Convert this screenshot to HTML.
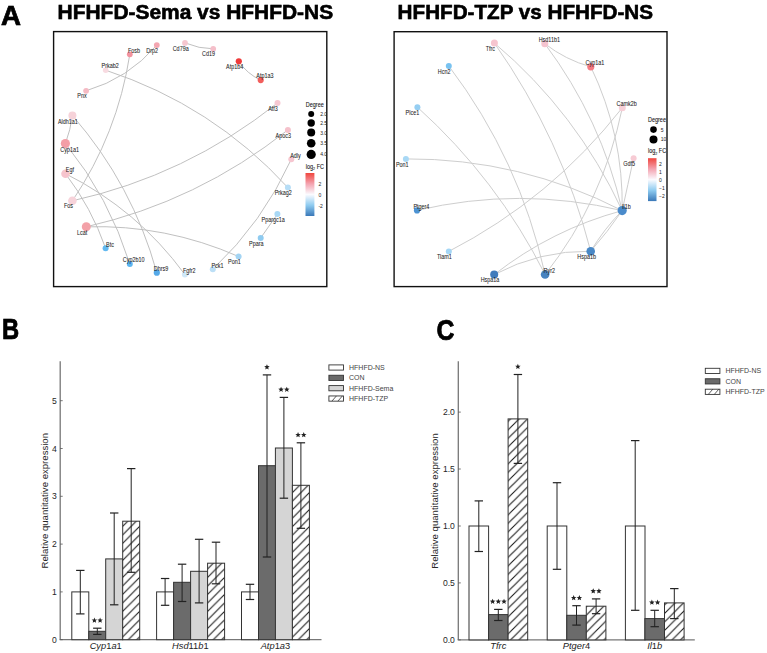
<!DOCTYPE html>
<html><head><meta charset="utf-8"><style>
html,body{margin:0;padding:0;background:#fff;}
svg{display:block;font-family:"Liberation Sans", sans-serif;}
</style></head><body>
<svg width="767" height="653" viewBox="0 0 767 653">
<rect width="767" height="653" fill="#fff"/>
<text transform="translate(0.95,25.15) scale(1.000,1)" x="0" y="0" font-size="27.65" font-weight="bold" fill="#000" stroke="#000" stroke-width="0.7" style="filter:drop-shadow(0.8px 0.9px 0.7px rgba(0,0,0,0.3))">A</text>
<text transform="translate(57.60,19.05) scale(1.031,1)" x="0" y="0" font-size="20.3" font-weight="bold" fill="#000" stroke="#000" stroke-width="0.5" style="filter:drop-shadow(0.8px 0.9px 0.7px rgba(0,0,0,0.3))">HFHFD-Sema vs HFHFD-NS</text>
<text transform="translate(397.60,18.50) scale(1.018,1)" x="0" y="0" font-size="20.3" font-weight="bold" fill="#000" stroke="#000" stroke-width="0.5" style="filter:drop-shadow(0.8px 0.9px 0.7px rgba(0,0,0,0.3))">HFHFD-TZP vs HFHFD-NS</text>
<g>
<path d="M185.0,42.9 Q199.1,48.8 213.2,48.8" fill="none" stroke="#bdbdbd" stroke-width="0.95"/>
<path d="M238.8,61.3 Q246.8,73.7 260.7,80.1" fill="none" stroke="#bdbdbd" stroke-width="0.95"/>
<path d="M156.8,45.1 Q128.2,78.5 86.1,90.8" fill="none" stroke="#bdbdbd" stroke-width="0.95"/>
<path d="M105.7,70.2 Q212.6,105.3 287.9,187.6" fill="none" stroke="#bdbdbd" stroke-width="0.95"/>
<path d="M129.8,54.3 Q117.5,134.0 72.4,200.8" fill="none" stroke="#bdbdbd" stroke-width="0.95"/>
<path d="M277.5,103.0 Q186.1,175.5 72.4,200.8" fill="none" stroke="#bdbdbd" stroke-width="0.95"/>
<path d="M287.9,129.9 Q197.9,201.2 86.3,226.8" fill="none" stroke="#bdbdbd" stroke-width="0.95"/>
<path d="M291.3,159.3 Q262.7,222.3 212.8,269.3" fill="none" stroke="#bdbdbd" stroke-width="0.95"/>
<path d="M277.4,214.1 Q269.0,226.1 260.7,238.0" fill="none" stroke="#bdbdbd" stroke-width="0.95"/>
<path d="M72.4,115.5 Q70.5,130.0 65.4,143.6" fill="none" stroke="#bdbdbd" stroke-width="0.95"/>
<path d="M72.4,115.5 Q132.6,184.7 156.8,272.7" fill="none" stroke="#bdbdbd" stroke-width="0.95"/>
<path d="M65.4,143.6 Q109.0,197.3 129.8,263.9" fill="none" stroke="#bdbdbd" stroke-width="0.95"/>
<path d="M65.5,173.7 Q91.5,207.8 105.6,248.2" fill="none" stroke="#bdbdbd" stroke-width="0.95"/>
<path d="M65.5,173.7 Q137.4,209.7 184.9,274.5" fill="none" stroke="#bdbdbd" stroke-width="0.95"/>
<path d="M86.3,226.8 Q165.8,224.5 238.6,256.5" fill="none" stroke="#bdbdbd" stroke-width="0.95"/>
<circle cx="129.8" cy="54.3" r="2.9" fill="#f3939f"/>
<circle cx="156.8" cy="45.1" r="2.9" fill="#f4a6b1"/>
<circle cx="185.0" cy="42.9" r="2.9" fill="#f6c7cf"/>
<circle cx="213.2" cy="48.8" r="2.9" fill="#f5bfca"/>
<circle cx="238.8" cy="61.3" r="3.1" fill="#ef3b3b"/>
<circle cx="260.7" cy="80.1" r="3.1" fill="#f25e5c"/>
<circle cx="105.7" cy="70.2" r="2.8" fill="#f8dbe1"/>
<circle cx="86.1" cy="90.8" r="2.9" fill="#f5bac4"/>
<circle cx="72.4" cy="115.5" r="4.0" fill="#f6d2d9"/>
<circle cx="65.4" cy="143.6" r="4.6" fill="#f39ea6"/>
<circle cx="65.5" cy="173.7" r="4.3" fill="#f6c4cd"/>
<circle cx="72.4" cy="200.8" r="4.3" fill="#f7d3da"/>
<circle cx="86.3" cy="226.8" r="4.5" fill="#f3a1a8"/>
<circle cx="105.6" cy="248.2" r="3.0" fill="#62b9f0"/>
<circle cx="129.8" cy="263.9" r="3.0" fill="#5cb5ef"/>
<circle cx="156.8" cy="272.7" r="3.1" fill="#55a9e8"/>
<circle cx="184.9" cy="274.5" r="3.0" fill="#cfe8f8"/>
<circle cx="212.8" cy="269.3" r="3.0" fill="#bcdff6"/>
<circle cx="238.6" cy="256.5" r="3.0" fill="#a3d4f3"/>
<circle cx="260.7" cy="238.0" r="3.0" fill="#8fcbf0"/>
<circle cx="277.4" cy="214.1" r="3.0" fill="#a9d8f5"/>
<circle cx="287.9" cy="187.6" r="3.0" fill="#b6ddf6"/>
<circle cx="291.3" cy="159.3" r="3.0" fill="#f6c6d0"/>
<circle cx="287.9" cy="129.9" r="3.0" fill="#f5c1cb"/>
<circle cx="277.5" cy="103.0" r="3.0" fill="#f6c8d2"/>
<text x="134.0" y="52.6" font-size="6.4" text-anchor="middle" fill="#1c1c1c" stroke="#1c1c1c" stroke-width="0.06" font-weight="normal" transform="translate(134.0,0) scale(0.85,1) translate(-134.0,0)">Fosb</text>
<text x="152.2" y="52.9" font-size="6.4" text-anchor="middle" fill="#1c1c1c" stroke="#1c1c1c" stroke-width="0.06" font-weight="normal" transform="translate(152.2,0) scale(0.85,1) translate(-152.2,0)">Drp2</text>
<text x="180.7" y="51.3" font-size="6.4" text-anchor="middle" fill="#1c1c1c" stroke="#1c1c1c" stroke-width="0.06" font-weight="normal" transform="translate(180.7,0) scale(0.85,1) translate(-180.7,0)">Cd79a</text>
<text x="208.6" y="56.5" font-size="6.4" text-anchor="middle" fill="#1c1c1c" stroke="#1c1c1c" stroke-width="0.06" font-weight="normal" transform="translate(208.6,0) scale(0.85,1) translate(-208.6,0)">Cd19</text>
<text x="234.7" y="68.8" font-size="6.4" text-anchor="middle" fill="#1c1c1c" stroke="#1c1c1c" stroke-width="0.06" font-weight="normal" transform="translate(234.7,0) scale(0.85,1) translate(-234.7,0)">Atp1b4</text>
<text x="264.9" y="77.7" font-size="6.4" text-anchor="middle" fill="#1c1c1c" stroke="#1c1c1c" stroke-width="0.06" font-weight="normal" transform="translate(264.9,0) scale(0.85,1) translate(-264.9,0)">Atp1a3</text>
<text x="110.2" y="68.5" font-size="6.4" text-anchor="middle" fill="#1c1c1c" stroke="#1c1c1c" stroke-width="0.06" font-weight="normal" transform="translate(110.2,0) scale(0.85,1) translate(-110.2,0)">Prkab2</text>
<text x="82.0" y="98.1" font-size="6.4" text-anchor="middle" fill="#1c1c1c" stroke="#1c1c1c" stroke-width="0.06" font-weight="normal" transform="translate(82.0,0) scale(0.85,1) translate(-82.0,0)">Pnx</text>
<text x="67.9" y="123.9" font-size="6.4" text-anchor="middle" fill="#1c1c1c" stroke="#1c1c1c" stroke-width="0.06" font-weight="normal" transform="translate(67.9,0) scale(0.85,1) translate(-67.9,0)">Aldh1a1</text>
<text x="69.6" y="151.7" font-size="6.4" text-anchor="middle" fill="#1c1c1c" stroke="#1c1c1c" stroke-width="0.06" font-weight="normal" transform="translate(69.6,0) scale(0.85,1) translate(-69.6,0)">Cyp1a1</text>
<text x="69.9" y="172.4" font-size="6.4" text-anchor="middle" fill="#1c1c1c" stroke="#1c1c1c" stroke-width="0.06" font-weight="normal" transform="translate(69.9,0) scale(0.85,1) translate(-69.9,0)">Egf</text>
<text x="68.5" y="208.4" font-size="6.4" text-anchor="middle" fill="#1c1c1c" stroke="#1c1c1c" stroke-width="0.06" font-weight="normal" transform="translate(68.5,0) scale(0.85,1) translate(-68.5,0)">Fos</text>
<text x="82.1" y="234.9" font-size="6.4" text-anchor="middle" fill="#1c1c1c" stroke="#1c1c1c" stroke-width="0.06" font-weight="normal" transform="translate(82.1,0) scale(0.85,1) translate(-82.1,0)">Lcat</text>
<text x="110.0" y="246.9" font-size="6.4" text-anchor="middle" fill="#1c1c1c" stroke="#1c1c1c" stroke-width="0.06" font-weight="normal" transform="translate(110.0,0) scale(0.85,1) translate(-110.0,0)">Btc</text>
<text x="133.7" y="262.2" font-size="6.4" text-anchor="middle" fill="#1c1c1c" stroke="#1c1c1c" stroke-width="0.06" font-weight="normal" transform="translate(133.7,0) scale(0.85,1) translate(-133.7,0)">Cyp2b10</text>
<text x="161.1" y="271.1" font-size="6.4" text-anchor="middle" fill="#1c1c1c" stroke="#1c1c1c" stroke-width="0.06" font-weight="normal" transform="translate(161.1,0) scale(0.85,1) translate(-161.1,0)">Dhrs9</text>
<text x="189.3" y="273.5" font-size="6.4" text-anchor="middle" fill="#1c1c1c" stroke="#1c1c1c" stroke-width="0.06" font-weight="normal" transform="translate(189.3,0) scale(0.85,1) translate(-189.3,0)">Fgfr2</text>
<text x="217.5" y="267.7" font-size="6.4" text-anchor="middle" fill="#1c1c1c" stroke="#1c1c1c" stroke-width="0.06" font-weight="normal" transform="translate(217.5,0) scale(0.85,1) translate(-217.5,0)">Pck1</text>
<text x="234.4" y="264.1" font-size="6.4" text-anchor="middle" fill="#1c1c1c" stroke="#1c1c1c" stroke-width="0.06" font-weight="normal" transform="translate(234.4,0) scale(0.85,1) translate(-234.4,0)">Pon1</text>
<text x="256.3" y="245.9" font-size="6.4" text-anchor="middle" fill="#1c1c1c" stroke="#1c1c1c" stroke-width="0.06" font-weight="normal" transform="translate(256.3,0) scale(0.85,1) translate(-256.3,0)">Ppara</text>
<text x="273.2" y="222.2" font-size="6.4" text-anchor="middle" fill="#1c1c1c" stroke="#1c1c1c" stroke-width="0.06" font-weight="normal" transform="translate(273.2,0) scale(0.85,1) translate(-273.2,0)">Ppargc1a</text>
<text x="283.3" y="195.1" font-size="6.4" text-anchor="middle" fill="#1c1c1c" stroke="#1c1c1c" stroke-width="0.06" font-weight="normal" transform="translate(283.3,0) scale(0.85,1) translate(-283.3,0)">Prkag2</text>
<text x="295.5" y="157.6" font-size="6.4" text-anchor="middle" fill="#1c1c1c" stroke="#1c1c1c" stroke-width="0.06" font-weight="normal" transform="translate(295.5,0) scale(0.85,1) translate(-295.5,0)">Adly</text>
<text x="283.3" y="137.7" font-size="6.4" text-anchor="middle" fill="#1c1c1c" stroke="#1c1c1c" stroke-width="0.06" font-weight="normal" transform="translate(283.3,0) scale(0.85,1) translate(-283.3,0)">Apoc3</text>
<text x="273.0" y="110.8" font-size="6.4" text-anchor="middle" fill="#1c1c1c" stroke="#1c1c1c" stroke-width="0.06" font-weight="normal" transform="translate(273.0,0) scale(0.85,1) translate(-273.0,0)">Atf3</text>
</g>
<g>
<path d="M544.8,43.7 Q565.6,59.9 590.8,66.8" fill="none" stroke="#cecece" stroke-width="1.0"/>
<path d="M494.4,43.1 Q561.5,138.3 590.7,251.2" fill="none" stroke="#cecece" stroke-width="1.0"/>
<path d="M494.4,43.1 Q576.7,112.6 622.2,210.6" fill="none" stroke="#cecece" stroke-width="1.0"/>
<path d="M544.8,43.7 Q601.3,119.0 622.2,210.6" fill="none" stroke="#cecece" stroke-width="1.0"/>
<path d="M590.8,66.8 Q623.5,134.9 622.2,210.6" fill="none" stroke="#cecece" stroke-width="1.0"/>
<path d="M622.3,107.8 Q550.8,198.8 448.8,251.4" fill="none" stroke="#cecece" stroke-width="1.0"/>
<path d="M622.3,107.8 Q603.3,200.8 545.1,274.5" fill="none" stroke="#cecece" stroke-width="1.0"/>
<path d="M448.8,66.0 Q519.8,159.8 545.1,274.5" fill="none" stroke="#cecece" stroke-width="1.0"/>
<path d="M417.4,107.2 Q497.1,179.0 545.1,274.5" fill="none" stroke="#cecece" stroke-width="1.0"/>
<path d="M633.6,158.3 Q627.9,184.4 622.2,210.6" fill="none" stroke="#cecece" stroke-width="1.0"/>
<path d="M405.9,158.9 Q520.4,158.3 622.2,210.6" fill="none" stroke="#cecece" stroke-width="1.0"/>
<path d="M417.0,210.4 Q519.4,186.3 622.2,210.6" fill="none" stroke="#cecece" stroke-width="1.0"/>
<path d="M494.2,274.6 Q551.8,229.6 622.2,210.6" fill="none" stroke="#cecece" stroke-width="1.0"/>
<path d="M494.2,274.6 Q539.5,250.5 590.7,251.2" fill="none" stroke="#cecece" stroke-width="1.0"/>
<path d="M590.7,251.2 Q604.1,228.9 622.2,210.6" fill="none" stroke="#cecece" stroke-width="1.0"/>
<path d="M590.7,251.2 Q607.7,231.9 622.2,210.6" fill="none" stroke="#cecece" stroke-width="1.0"/>
<circle cx="494.4" cy="43.1" r="3.5" fill="#f6c5cf"/>
<circle cx="544.8" cy="43.7" r="3.5" fill="#f5c4cf"/>
<circle cx="590.8" cy="66.8" r="3.6" fill="#f47a82"/>
<circle cx="622.3" cy="107.8" r="3.5" fill="#f7cfd7"/>
<circle cx="633.6" cy="158.3" r="3.0" fill="#f7cbd4"/>
<circle cx="622.2" cy="210.6" r="4.6" fill="#4a8bcb"/>
<circle cx="590.7" cy="251.2" r="4.3" fill="#4988c6"/>
<circle cx="545.1" cy="274.5" r="4.3" fill="#4783c0"/>
<circle cx="494.2" cy="274.6" r="4.0" fill="#3f7bbb"/>
<circle cx="448.8" cy="251.4" r="3.0" fill="#a4d6f5"/>
<circle cx="417.0" cy="210.4" r="3.1" fill="#4d93d3"/>
<circle cx="405.9" cy="158.9" r="3.0" fill="#a8d8f5"/>
<circle cx="417.4" cy="107.2" r="3.0" fill="#95cef2"/>
<circle cx="448.8" cy="66.0" r="3.0" fill="#78c2f0"/>
<text x="490.4" y="51.2" font-size="6.4" text-anchor="middle" fill="#1c1c1c" stroke="#1c1c1c" stroke-width="0.06" font-weight="normal" transform="translate(490.4,0) scale(0.85,1) translate(-490.4,0)">Tfrc</text>
<text x="549.3" y="41.7" font-size="6.4" text-anchor="middle" fill="#1c1c1c" stroke="#1c1c1c" stroke-width="0.06" font-weight="normal" transform="translate(549.3,0) scale(0.85,1) translate(-549.3,0)">Hsd11b1</text>
<text x="594.9" y="64.8" font-size="6.4" text-anchor="middle" fill="#1c1c1c" stroke="#1c1c1c" stroke-width="0.06" font-weight="normal" transform="translate(594.9,0) scale(0.85,1) translate(-594.9,0)">Cyp1a1</text>
<text x="626.7" y="106.2" font-size="6.4" text-anchor="middle" fill="#1c1c1c" stroke="#1c1c1c" stroke-width="0.06" font-weight="normal" transform="translate(626.7,0) scale(0.85,1) translate(-626.7,0)">Camk2b</text>
<text x="629.1" y="166.2" font-size="6.4" text-anchor="middle" fill="#1c1c1c" stroke="#1c1c1c" stroke-width="0.06" font-weight="normal" transform="translate(629.1,0) scale(0.85,1) translate(-629.1,0)">Gdf5</text>
<text x="626.4" y="208.9" font-size="6.4" text-anchor="middle" fill="#1c1c1c" stroke="#1c1c1c" stroke-width="0.06" font-weight="normal" transform="translate(626.4,0) scale(0.85,1) translate(-626.4,0)">Il1b</text>
<text x="586.7" y="259.0" font-size="6.4" text-anchor="middle" fill="#1c1c1c" stroke="#1c1c1c" stroke-width="0.06" font-weight="normal" transform="translate(586.7,0) scale(0.85,1) translate(-586.7,0)">Hspa1b</text>
<text x="549.3" y="272.9" font-size="6.4" text-anchor="middle" fill="#1c1c1c" stroke="#1c1c1c" stroke-width="0.06" font-weight="normal" transform="translate(549.3,0) scale(0.85,1) translate(-549.3,0)">Ryr2</text>
<text x="490.0" y="281.9" font-size="6.4" text-anchor="middle" fill="#1c1c1c" stroke="#1c1c1c" stroke-width="0.06" font-weight="normal" transform="translate(490.0,0) scale(0.85,1) translate(-490.0,0)">Hspa1a</text>
<text x="444.4" y="259.2" font-size="6.4" text-anchor="middle" fill="#1c1c1c" stroke="#1c1c1c" stroke-width="0.06" font-weight="normal" transform="translate(444.4,0) scale(0.85,1) translate(-444.4,0)">Tiam1</text>
<text x="421.4" y="208.9" font-size="6.4" text-anchor="middle" fill="#1c1c1c" stroke="#1c1c1c" stroke-width="0.06" font-weight="normal" transform="translate(421.4,0) scale(0.85,1) translate(-421.4,0)">Ptger4</text>
<text x="402.3" y="166.7" font-size="6.4" text-anchor="middle" fill="#1c1c1c" stroke="#1c1c1c" stroke-width="0.06" font-weight="normal" transform="translate(402.3,0) scale(0.85,1) translate(-402.3,0)">Pon1</text>
<text x="412.4" y="115.0" font-size="6.4" text-anchor="middle" fill="#1c1c1c" stroke="#1c1c1c" stroke-width="0.06" font-weight="normal" transform="translate(412.4,0) scale(0.85,1) translate(-412.4,0)">Plce1</text>
<text x="444.2" y="73.6" font-size="6.4" text-anchor="middle" fill="#1c1c1c" stroke="#1c1c1c" stroke-width="0.06" font-weight="normal" transform="translate(444.2,0) scale(0.85,1) translate(-444.2,0)">Hcn2</text>
</g>
<defs><linearGradient id="fc" x1="0" y1="0" x2="0" y2="1"><stop offset="0" stop-color="#f0463e"/><stop offset="0.25" stop-color="#f4a3b0"/><stop offset="0.5" stop-color="#fbfbff"/><stop offset="0.75" stop-color="#8ecbf0"/><stop offset="1" stop-color="#3a78b8"/></linearGradient><clipPath id="c1"><rect x="54" y="32" width="272.2" height="254"/></clipPath><clipPath id="c2"><rect x="394.5" y="32" width="272" height="254"/></clipPath></defs>
<g clip-path="url(#c1)">
<text transform="translate(305.8,106.7) scale(0.87,1)" font-size="6.3" fill="#111" stroke="#111" stroke-width="0.08">Degree</text>
<circle cx="311.2" cy="114.1" r="3.0" fill="#000"/>
<text x="320.2" y="116.1" font-size="5.0" fill="#222">2.0</text>
<circle cx="311.2" cy="123.0" r="3.7" fill="#000"/>
<text x="320.2" y="125.0" font-size="5.0" fill="#222">2.5</text>
<circle cx="311.2" cy="132.5" r="4.0" fill="#000"/>
<text x="320.2" y="134.5" font-size="5.0" fill="#222">3.0</text>
<circle cx="311.2" cy="143.2" r="4.3" fill="#000"/>
<text x="320.2" y="145.2" font-size="5.0" fill="#222">3.5</text>
<circle cx="311.2" cy="154.4" r="4.6" fill="#000"/>
<text x="320.2" y="156.4" font-size="5.0" fill="#222">4.0</text>
<text transform="translate(305.8,168.5) scale(0.87,1)" font-size="6.3" fill="#111" stroke="#111" stroke-width="0.08">log<tspan font-size="4.2" dy="1.5">2</tspan><tspan dy="-1.5"> FC</tspan></text>
<rect x="305.5" y="173" width="8.9" height="43" fill="url(#fc)"/>
<text x="318.4" y="185.8" font-size="5.0" fill="#222">2</text>
<text x="318.4" y="196.8" font-size="5.0" fill="#222">0</text>
<text x="318.4" y="208.2" font-size="5.0" fill="#222">-2</text>
</g>
<g clip-path="url(#c2)">
<text transform="translate(648,121.8) scale(0.87,1)" font-size="6.3" fill="#111" stroke="#111" stroke-width="0.08">Degree</text>
<circle cx="653.5" cy="129.6" r="3.3" fill="#000"/>
<text x="660.8" y="131.6" font-size="5.0" fill="#222">5</text>
<circle cx="653.5" cy="139.4" r="4.0" fill="#000"/>
<text x="660.8" y="141.4" font-size="5.0" fill="#222">10</text>
<text transform="translate(648,153.2) scale(0.87,1)" font-size="6.3" fill="#111" stroke="#111" stroke-width="0.08">log<tspan font-size="4.2" dy="1.5">2</tspan><tspan dy="-1.5"> FC</tspan></text>
<rect x="648" y="158.2" width="8.5" height="42.9" fill="url(#fc)"/>
<text x="659.0" y="165.6" font-size="5.0" fill="#222">2</text>
<text x="659.0" y="173.8" font-size="5.0" fill="#222">1</text>
<text x="659.0" y="181.6" font-size="5.0" fill="#222">0</text>
<text x="659.0" y="189.7" font-size="5.0" fill="#222">−1</text>
<text x="659.0" y="197.5" font-size="5.0" fill="#222">−2</text>
</g>
<rect x="53.6" y="31.6" width="273.2" height="255" fill="none" stroke="#111" stroke-width="1.4"/>
<rect x="394.1" y="31.7" width="272.9" height="254.9" fill="none" stroke="#111" stroke-width="1.4"/>
<defs><pattern id="hatch" patternUnits="userSpaceOnUse" width="8.5" height="8.5" patternTransform="translate(3,0)"><path d="M-2,2 L2,-2 M0,8.5 L8.5,0 M6.5,10.5 L10.5,6.5" stroke="#1a1a1a" stroke-width="1.1"/></pattern></defs>
<text transform="translate(2.10,339.15) scale(0.820,1)" x="0" y="0" font-size="29.0" font-weight="bold" fill="#000" stroke="#000" stroke-width="0.7" style="filter:drop-shadow(0.8px 0.9px 0.7px rgba(0,0,0,0.3))">B</text>
<text transform="translate(436.56,339.50) scale(0.836,1)" x="0" y="0" font-size="29.6" font-weight="bold" fill="#000" stroke="#000" stroke-width="0.7" style="filter:drop-shadow(0.8px 0.9px 0.7px rgba(0,0,0,0.3))">C</text>
<line x1="60.2" y1="361.3" x2="60.2" y2="639.7" stroke="#777" stroke-width="1.3"/>
<line x1="59.6" y1="639.7" x2="321.5" y2="639.7" stroke="#777" stroke-width="1.3"/>
<line x1="60.2" y1="639.7" x2="62.7" y2="639.7" stroke="#555" stroke-width="0.8"/>
<text x="56.800000000000004" y="642.8" font-size="8.6" text-anchor="end" fill="#262626">0</text>
<line x1="60.2" y1="591.9" x2="62.7" y2="591.9" stroke="#555" stroke-width="0.8"/>
<text x="56.800000000000004" y="595.0" font-size="8.6" text-anchor="end" fill="#262626">1</text>
<line x1="60.2" y1="544.1" x2="62.7" y2="544.1" stroke="#555" stroke-width="0.8"/>
<text x="56.800000000000004" y="547.2" font-size="8.6" text-anchor="end" fill="#262626">2</text>
<line x1="60.2" y1="496.3" x2="62.7" y2="496.3" stroke="#555" stroke-width="0.8"/>
<text x="56.800000000000004" y="499.4" font-size="8.6" text-anchor="end" fill="#262626">3</text>
<line x1="60.2" y1="448.5" x2="62.7" y2="448.5" stroke="#555" stroke-width="0.8"/>
<text x="56.800000000000004" y="451.6" font-size="8.6" text-anchor="end" fill="#262626">4</text>
<line x1="60.2" y1="400.7" x2="62.7" y2="400.7" stroke="#555" stroke-width="0.8"/>
<text x="56.800000000000004" y="403.8" font-size="8.6" text-anchor="end" fill="#262626">5</text>
<text x="44.7" y="500.7" font-size="9.6" text-anchor="middle" fill="#262626" transform="rotate(-90 44.7 500.7)" dy="3.3">Relative quantitative expression</text>
<rect x="71.8" y="591.9" width="17.0" height="47.8" fill="#ffffff" stroke="#333" stroke-width="1"/>
<rect x="88.8" y="631.3" width="17.0" height="8.4" fill="#6b6b6b" stroke="#333" stroke-width="1"/>
<rect x="105.7" y="558.9" width="17.0" height="80.8" fill="#d5d5d5" stroke="#333" stroke-width="1"/>
<rect x="122.7" y="521.2" width="17.0" height="118.5" fill="#fff"/>
<rect x="122.7" y="521.2" width="17.0" height="118.5" fill="url(#hatch)" stroke="#333" stroke-width="1"/>
<line x1="80.3" y1="570.4" x2="80.3" y2="613.9" stroke="#222" stroke-width="1"/>
<line x1="76.1" y1="570.4" x2="84.5" y2="570.4" stroke="#222" stroke-width="1.2"/>
<line x1="76.1" y1="613.9" x2="84.5" y2="613.9" stroke="#222" stroke-width="1.2"/>
<line x1="97.3" y1="628.2" x2="97.3" y2="634.4" stroke="#222" stroke-width="1"/>
<line x1="93.1" y1="628.2" x2="101.5" y2="628.2" stroke="#222" stroke-width="1.2"/>
<line x1="93.1" y1="634.4" x2="101.5" y2="634.4" stroke="#222" stroke-width="1.2"/>
<polygon points="94.41,617.53 95.17,619.38 97.16,619.53 95.64,620.83 96.11,622.77 94.41,621.73 92.70,622.77 93.17,620.83 91.65,619.53 93.64,619.38" fill="#222"/>
<polygon points="100.10,617.53 100.87,619.38 102.86,619.53 101.34,620.83 101.81,622.77 100.10,621.73 98.40,622.77 98.87,620.83 97.35,619.53 99.34,619.38" fill="#222"/>
<line x1="114.2" y1="513.0" x2="114.2" y2="604.8" stroke="#222" stroke-width="1"/>
<line x1="110.0" y1="513.0" x2="118.4" y2="513.0" stroke="#222" stroke-width="1.2"/>
<line x1="110.0" y1="604.8" x2="118.4" y2="604.8" stroke="#222" stroke-width="1.2"/>
<line x1="131.2" y1="468.6" x2="131.2" y2="572.3" stroke="#222" stroke-width="1"/>
<line x1="127.0" y1="468.6" x2="135.4" y2="468.6" stroke="#222" stroke-width="1.2"/>
<line x1="127.0" y1="572.3" x2="135.4" y2="572.3" stroke="#222" stroke-width="1.2"/>
<rect x="156.6" y="591.9" width="17.0" height="47.8" fill="#ffffff" stroke="#333" stroke-width="1"/>
<rect x="173.6" y="582.3" width="17.0" height="57.4" fill="#6b6b6b" stroke="#333" stroke-width="1"/>
<rect x="190.6" y="571.3" width="17.0" height="68.4" fill="#d5d5d5" stroke="#333" stroke-width="1"/>
<rect x="207.6" y="563.2" width="17.0" height="76.5" fill="#fff"/>
<rect x="207.6" y="563.2" width="17.0" height="76.5" fill="url(#hatch)" stroke="#333" stroke-width="1"/>
<line x1="165.1" y1="578.5" x2="165.1" y2="605.3" stroke="#222" stroke-width="1"/>
<line x1="160.9" y1="578.5" x2="169.3" y2="578.5" stroke="#222" stroke-width="1.2"/>
<line x1="160.9" y1="605.3" x2="169.3" y2="605.3" stroke="#222" stroke-width="1.2"/>
<line x1="182.1" y1="564.2" x2="182.1" y2="601.5" stroke="#222" stroke-width="1"/>
<line x1="177.9" y1="564.2" x2="186.3" y2="564.2" stroke="#222" stroke-width="1.2"/>
<line x1="177.9" y1="601.5" x2="186.3" y2="601.5" stroke="#222" stroke-width="1.2"/>
<line x1="199.1" y1="539.3" x2="199.1" y2="602.9" stroke="#222" stroke-width="1"/>
<line x1="194.9" y1="539.3" x2="203.3" y2="539.3" stroke="#222" stroke-width="1.2"/>
<line x1="194.9" y1="602.9" x2="203.3" y2="602.9" stroke="#222" stroke-width="1.2"/>
<line x1="216.0" y1="542.2" x2="216.0" y2="583.8" stroke="#222" stroke-width="1"/>
<line x1="211.8" y1="542.2" x2="220.2" y2="542.2" stroke="#222" stroke-width="1.2"/>
<line x1="211.8" y1="583.8" x2="220.2" y2="583.8" stroke="#222" stroke-width="1.2"/>
<rect x="241.5" y="591.9" width="17.0" height="47.8" fill="#ffffff" stroke="#333" stroke-width="1"/>
<rect x="258.5" y="465.7" width="17.0" height="174.0" fill="#6b6b6b" stroke="#333" stroke-width="1"/>
<rect x="275.4" y="448.0" width="17.0" height="191.7" fill="#d5d5d5" stroke="#333" stroke-width="1"/>
<rect x="292.4" y="485.3" width="17.0" height="154.4" fill="#fff"/>
<rect x="292.4" y="485.3" width="17.0" height="154.4" fill="url(#hatch)" stroke="#333" stroke-width="1"/>
<line x1="250.0" y1="584.3" x2="250.0" y2="599.5" stroke="#222" stroke-width="1"/>
<line x1="245.8" y1="584.3" x2="254.2" y2="584.3" stroke="#222" stroke-width="1.2"/>
<line x1="245.8" y1="599.5" x2="254.2" y2="599.5" stroke="#222" stroke-width="1.2"/>
<line x1="267.0" y1="374.9" x2="267.0" y2="557.0" stroke="#222" stroke-width="1"/>
<line x1="262.8" y1="374.9" x2="271.2" y2="374.9" stroke="#222" stroke-width="1.2"/>
<line x1="262.8" y1="557.0" x2="271.2" y2="557.0" stroke="#222" stroke-width="1.2"/>
<polygon points="266.96,364.19 267.72,366.04 269.71,366.19 268.19,367.49 268.66,369.43 266.96,368.39 265.25,369.43 265.72,367.49 264.20,366.19 266.19,366.04" fill="#222"/>
<line x1="283.9" y1="397.4" x2="283.9" y2="498.2" stroke="#222" stroke-width="1"/>
<line x1="279.7" y1="397.4" x2="288.1" y2="397.4" stroke="#222" stroke-width="1.2"/>
<line x1="279.7" y1="498.2" x2="288.1" y2="498.2" stroke="#222" stroke-width="1.2"/>
<polygon points="281.07,386.65 281.84,388.50 283.83,388.66 282.31,389.96 282.78,391.90 281.07,390.85 279.37,391.90 279.84,389.96 278.32,388.66 280.31,388.50" fill="#222"/>
<polygon points="286.78,386.65 287.54,388.50 289.53,388.66 288.01,389.96 288.48,391.90 286.78,390.85 285.07,391.90 285.54,389.96 284.02,388.66 286.01,388.50" fill="#222"/>
<line x1="300.9" y1="442.8" x2="300.9" y2="528.3" stroke="#222" stroke-width="1"/>
<line x1="296.7" y1="442.8" x2="305.1" y2="442.8" stroke="#222" stroke-width="1.2"/>
<line x1="296.7" y1="528.3" x2="305.1" y2="528.3" stroke="#222" stroke-width="1.2"/>
<polygon points="298.04,432.06 298.81,433.91 300.80,434.07 299.28,435.37 299.75,437.31 298.04,436.26 296.34,437.31 296.81,435.37 295.29,434.07 297.28,433.91" fill="#222"/>
<polygon points="303.75,432.06 304.51,433.91 306.50,434.07 304.98,435.37 305.45,437.31 303.75,436.26 302.04,437.31 302.51,435.37 300.99,434.07 302.98,433.91" fill="#222"/>
<text x="105.7" y="649.2" font-size="9.3" text-anchor="middle" fill="#222"><tspan font-style="italic">Cyp</tspan><tspan>1</tspan><tspan font-style="italic">a</tspan><tspan>1</tspan></text>
<text x="190.3" y="649.2" font-size="9.3" text-anchor="middle" fill="#222"><tspan font-style="italic">Hsd</tspan><tspan>11</tspan><tspan font-style="italic">b</tspan><tspan>1</tspan></text>
<text x="275.4" y="649.2" font-size="9.3" text-anchor="middle" fill="#222"><tspan font-style="italic">Atp</tspan><tspan>1</tspan><tspan font-style="italic">a</tspan><tspan>3</tspan></text>
<rect x="328.9" y="364.9" width="14.6" height="5.2" fill="#ffffff" stroke="#333" stroke-width="0.9"/>
<text x="349.0" y="369.9" font-size="7" fill="#444">HFHFD-NS</text>
<rect x="328.9" y="375.25" width="14.6" height="5.2" fill="#6b6b6b" stroke="#333" stroke-width="0.9"/>
<text x="349.0" y="380.2" font-size="7" fill="#444">CON</text>
<rect x="328.9" y="385.59999999999997" width="14.6" height="5.2" fill="#d5d5d5" stroke="#333" stroke-width="0.9"/>
<text x="349.0" y="390.6" font-size="7" fill="#444">HFHFD-Sema</text>
<rect x="328.9" y="395.95" width="14.6" height="5.2" fill="#fff" stroke="#333" stroke-width="0.9"/>
<path d="M331.9,401.15 L336.4,395.95 M337.9,401.15 L342.4,395.95" stroke="#333" stroke-width="0.8"/>
<text x="349.0" y="400.9" font-size="7" fill="#444">HFHFD-TZP</text>
<line x1="458.3" y1="361.3" x2="458.3" y2="639.9" stroke="#777" stroke-width="1.3"/>
<line x1="457.7" y1="639.9" x2="694.8" y2="639.9" stroke="#777" stroke-width="1.3"/>
<line x1="458.3" y1="639.9" x2="460.8" y2="639.9" stroke="#555" stroke-width="0.8"/>
<text x="454.90000000000003" y="643.0" font-size="8.6" text-anchor="end" fill="#262626">0.0</text>
<line x1="458.3" y1="582.9" x2="460.8" y2="582.9" stroke="#555" stroke-width="0.8"/>
<text x="454.90000000000003" y="586.0" font-size="8.6" text-anchor="end" fill="#262626">0.5</text>
<line x1="458.3" y1="526.0" x2="460.8" y2="526.0" stroke="#555" stroke-width="0.8"/>
<text x="454.90000000000003" y="529.1" font-size="8.6" text-anchor="end" fill="#262626">1.0</text>
<line x1="458.3" y1="469.0" x2="460.8" y2="469.0" stroke="#555" stroke-width="0.8"/>
<text x="454.90000000000003" y="472.1" font-size="8.6" text-anchor="end" fill="#262626">1.5</text>
<line x1="458.3" y1="412.1" x2="460.8" y2="412.1" stroke="#555" stroke-width="0.8"/>
<text x="454.90000000000003" y="415.2" font-size="8.6" text-anchor="end" fill="#262626">2.0</text>
<text x="435.0" y="501.0" font-size="9.6" text-anchor="middle" fill="#262626" transform="rotate(-90 435.0 501.0)" dy="3.3">Relative quantitative expression</text>
<rect x="469.0" y="526.0" width="19.6" height="113.9" fill="#ffffff" stroke="#333" stroke-width="1"/>
<rect x="488.6" y="614.6" width="19.6" height="25.3" fill="#6b6b6b" stroke="#333" stroke-width="1"/>
<rect x="508.1" y="418.9" width="19.6" height="221.0" fill="#fff"/>
<rect x="508.1" y="418.9" width="19.6" height="221.0" fill="url(#hatch)" stroke="#333" stroke-width="1"/>
<line x1="478.8" y1="500.9" x2="478.8" y2="551.5" stroke="#222" stroke-width="1"/>
<line x1="474.6" y1="500.9" x2="483.0" y2="500.9" stroke="#222" stroke-width="1.2"/>
<line x1="474.6" y1="551.5" x2="483.0" y2="551.5" stroke="#222" stroke-width="1.2"/>
<line x1="498.3" y1="609.4" x2="498.3" y2="620.5" stroke="#222" stroke-width="1"/>
<line x1="494.1" y1="609.4" x2="502.5" y2="609.4" stroke="#222" stroke-width="1.2"/>
<line x1="494.1" y1="620.5" x2="502.5" y2="620.5" stroke="#222" stroke-width="1.2"/>
<polygon points="492.62,598.67 493.39,600.52 495.38,600.68 493.86,601.98 494.33,603.92 492.62,602.87 490.92,603.92 491.39,601.98 489.87,600.68 491.86,600.52" fill="#222"/>
<polygon points="498.32,598.67 499.09,600.52 501.08,600.68 499.56,601.98 500.03,603.92 498.32,602.87 496.62,603.92 497.09,601.98 495.57,600.68 497.56,600.52" fill="#222"/>
<polygon points="504.02,598.67 504.79,600.52 506.78,600.68 505.26,601.98 505.73,603.92 504.02,602.87 502.32,603.92 502.79,601.98 501.27,600.68 503.26,600.52" fill="#222"/>
<line x1="517.9" y1="374.5" x2="517.9" y2="463.4" stroke="#222" stroke-width="1"/>
<line x1="513.7" y1="374.5" x2="522.1" y2="374.5" stroke="#222" stroke-width="1.2"/>
<line x1="513.7" y1="463.4" x2="522.1" y2="463.4" stroke="#222" stroke-width="1.2"/>
<polygon points="517.88,363.81 518.64,365.66 520.63,365.82 519.11,367.11 519.58,369.06 517.88,368.01 516.17,369.06 516.64,367.11 515.12,365.82 517.11,365.66" fill="#222"/>
<rect x="547.2" y="526.0" width="19.6" height="113.9" fill="#ffffff" stroke="#333" stroke-width="1"/>
<rect x="566.8" y="615.3" width="19.6" height="24.6" fill="#6b6b6b" stroke="#333" stroke-width="1"/>
<rect x="586.3" y="606.2" width="19.6" height="33.7" fill="#fff"/>
<rect x="586.3" y="606.2" width="19.6" height="33.7" fill="url(#hatch)" stroke="#333" stroke-width="1"/>
<line x1="557.0" y1="482.7" x2="557.0" y2="569.3" stroke="#222" stroke-width="1"/>
<line x1="552.8" y1="482.7" x2="561.2" y2="482.7" stroke="#222" stroke-width="1.2"/>
<line x1="552.8" y1="569.3" x2="561.2" y2="569.3" stroke="#222" stroke-width="1.2"/>
<line x1="576.5" y1="605.7" x2="576.5" y2="625.1" stroke="#222" stroke-width="1"/>
<line x1="572.3" y1="605.7" x2="580.7" y2="605.7" stroke="#222" stroke-width="1.2"/>
<line x1="572.3" y1="625.1" x2="580.7" y2="625.1" stroke="#222" stroke-width="1.2"/>
<polygon points="573.67,595.03 574.44,596.88 576.43,597.03 574.91,598.33 575.38,600.28 573.67,599.23 571.97,600.28 572.44,598.33 570.92,597.03 572.91,596.88" fill="#222"/>
<polygon points="579.38,595.03 580.14,596.88 582.13,597.03 580.61,598.33 581.08,600.28 579.38,599.23 577.67,600.28 578.14,598.33 576.62,597.03 578.61,596.88" fill="#222"/>
<line x1="596.1" y1="598.9" x2="596.1" y2="613.7" stroke="#222" stroke-width="1"/>
<line x1="591.9" y1="598.9" x2="600.3" y2="598.9" stroke="#222" stroke-width="1.2"/>
<line x1="591.9" y1="613.7" x2="600.3" y2="613.7" stroke="#222" stroke-width="1.2"/>
<polygon points="593.23,588.20 593.99,590.04 595.98,590.20 594.46,591.50 594.93,593.44 593.23,592.40 591.52,593.44 591.99,591.50 590.47,590.20 592.46,590.04" fill="#222"/>
<polygon points="598.93,588.20 599.69,590.04 601.68,590.20 600.16,591.50 600.63,593.44 598.93,592.40 597.22,593.44 597.69,591.50 596.17,590.20 598.16,590.04" fill="#222"/>
<rect x="625.4" y="526.0" width="19.6" height="113.9" fill="#ffffff" stroke="#333" stroke-width="1"/>
<rect x="644.9" y="618.6" width="19.6" height="21.3" fill="#6b6b6b" stroke="#333" stroke-width="1"/>
<rect x="664.5" y="602.9" width="19.6" height="37.0" fill="#fff"/>
<rect x="664.5" y="602.9" width="19.6" height="37.0" fill="url(#hatch)" stroke="#333" stroke-width="1"/>
<line x1="635.2" y1="440.6" x2="635.2" y2="610.3" stroke="#222" stroke-width="1"/>
<line x1="631.0" y1="440.6" x2="639.4" y2="440.6" stroke="#222" stroke-width="1.2"/>
<line x1="631.0" y1="610.3" x2="639.4" y2="610.3" stroke="#222" stroke-width="1.2"/>
<line x1="654.7" y1="610.3" x2="654.7" y2="626.7" stroke="#222" stroke-width="1"/>
<line x1="650.5" y1="610.3" x2="658.9" y2="610.3" stroke="#222" stroke-width="1.2"/>
<line x1="650.5" y1="626.7" x2="658.9" y2="626.7" stroke="#222" stroke-width="1.2"/>
<polygon points="651.87,599.59 652.64,601.43 654.63,601.59 653.11,602.89 653.58,604.83 651.87,603.79 650.17,604.83 650.64,602.89 649.12,601.59 651.11,601.43" fill="#222"/>
<polygon points="657.57,599.59 658.34,601.43 660.33,601.59 658.81,602.89 659.28,604.83 657.57,603.79 655.87,604.83 656.34,602.89 654.82,601.59 656.81,601.43" fill="#222"/>
<line x1="674.3" y1="588.6" x2="674.3" y2="618.6" stroke="#222" stroke-width="1"/>
<line x1="670.1" y1="588.6" x2="678.5" y2="588.6" stroke="#222" stroke-width="1.2"/>
<line x1="670.1" y1="618.6" x2="678.5" y2="618.6" stroke="#222" stroke-width="1.2"/>
<text x="498.3" y="649.2" font-size="9.3" text-anchor="middle" fill="#222"><tspan font-style="italic">Tfrc</tspan></text>
<text x="576.5" y="649.2" font-size="9.3" text-anchor="middle" fill="#222"><tspan font-style="italic">Ptger</tspan><tspan>4</tspan></text>
<text x="654.7" y="649.2" font-size="9.3" text-anchor="middle" fill="#222"><tspan font-style="italic">Il</tspan><tspan>1</tspan><tspan font-style="italic">b</tspan></text>
<rect x="705.3" y="368.3" width="14.6" height="5.2" fill="#ffffff" stroke="#333" stroke-width="0.9"/>
<text x="725.4" y="373.3" font-size="7" fill="#444">HFHFD-NS</text>
<rect x="705.3" y="378.75" width="14.6" height="5.2" fill="#6b6b6b" stroke="#333" stroke-width="0.9"/>
<text x="725.4" y="383.8" font-size="7" fill="#444">CON</text>
<rect x="705.3" y="389.2" width="14.6" height="5.2" fill="#fff" stroke="#333" stroke-width="0.9"/>
<path d="M708.3,394.4 L712.8,389.2 M714.3,394.4 L718.8,389.2" stroke="#333" stroke-width="0.8"/>
<text x="725.4" y="394.2" font-size="7" fill="#444">HFHFD-TZP</text>
</svg></body></html>
